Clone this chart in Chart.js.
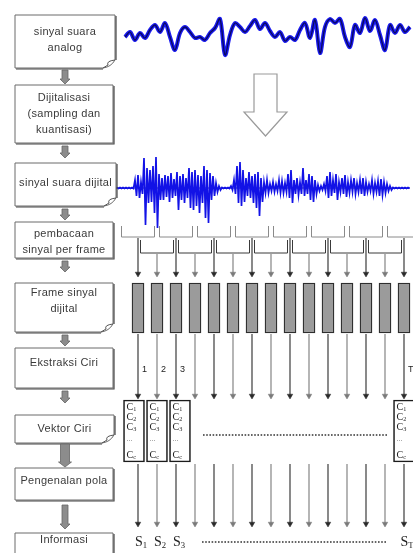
<!DOCTYPE html>
<html>
<head>
<meta charset="utf-8">
<title>Alur pengenalan suara</title>
<script src="https://cdn.jsdelivr.net/npm/chart.js@4.4.1/dist/chart.umd.min.js"></script>
<style>
  html, body { margin: 0; padding: 0; background: #fff; }
  #wrap { width: 413px; height: 553px; }
</style>
</head>
<body>
<div id="wrap"><canvas id="diagram"></canvas></div>
<script>
// ---- values ----
const stageLabels = [
  ['sinyal suara', 'analog'],
  ['Dijitalisasi', '(sampling dan', 'kuantisasi)'],
  ['sinyal suara dijital'],
  ['pembacaan', 'sinyal per frame'],
  ['Frame sinyal', 'dijital'],
  ['Ekstraksi Ciri'],
  ['Vektor Ciri'],
  ['Pengenalan pola'],
  ['Informasi']
];

// analog speech signal, amplitude per sample
const analogWave = [-2, 3, -5, 2, -3, 5, 10, 3, 12, -2, -15, 2, 8, 3, -3, -2, -5, 2, 7, 16,
  -20, 0, 12, 8, 3, 9, 15, 6, 12, 4, -2, 3, -6, -2, -5, 5, 12, -3, 15, -18,
  8, 16, 12, 16, -2, -12, 10, 2, 17, 4, 15, 0, -15, 10, 2, 10, 3, 8];

// digital signal envelope (positive / negative peak per column)
const digitalUpper = [0.5, 0.5, 0.5, 0.5, 0.5, 0.5,
  8, 13, 6, 30, 20, 18, 22, 31, 14, 10, 13, 12, 15, 9, 16, 12,
  14, 10, 20, 16, 18, 13, 12, 22, 18, 15, 12, 5, 2, 0.5, 0.5, 0.5,
  2, 8, 22, 26, 18, 10, 16, 12, 14, 16, 10, 6, 8, 4, 6, 4,
  8, 7, 5, 14, 18, 8, 10, 6, 20, 8, 14, 12, 8, 3, 2, 4,
  12, 16, 8, 14, 6, 10, 13, 6, 8, 10, 5, 8, 10, 6, 4, 8,
  5, 7, 9, 6, 4, 2, 0.5, 0.5, 0.5, 0.5, 0.5, 0.5];
const digitalLower = [0.5, 0.5, 0.5, 0.5, 0.5, 0.5,
  8, 10, 6, 37, 15, 14, 25, 40, 12, 12, 9, 14, 10, 8, 22, 12,
  15, 10, 20, 22, 18, 25, 15, 30, 35, 12, 8, 4, 2, 0.5, 0.5, 0.5,
  2, 6, 15, 18, 14, 8, 10, 15, 20, 28, 14, 5, 5, 3, 4, 3,
  5, 5, 4, 10, 15, 6, 7, 6, 8, 6, 12, 14, 6, 3, 2, 3,
  10, 8, 5, 12, 4, 6, 9, 5, 4, 6, 4, 6, 8, 4, 3, 6,
  4, 8, 7, 5, 3, 2, 0.5, 0.5, 0.5, 0.5, 0.5, 0.5];

const frameCount = 15;
const shownFrames = [0, 1, 2, 14];          // frames drawn with a feature vector
const frameTags = ['1', '2', '3', 'T'];
const featureSubs = ['1', '2', '3', null, 'c'];
const outputSubs = ['1', '2', '3', 'T'];

// ---- layout ----
const W = 413, H = 553;
const WAVE_X0 = 125, WAVE_DX = 5, WAVE_Y = 35;
const DIG_X0 = 117, DIG_DX = 3, DIG_Y = 188;
const FRAME_X0 = 138, FRAME_DX = 19;
const BRACKET_HALF = 16.5 / FRAME_DX;
const HEAD = 3.2;
const FONT = '"Liberation Sans", Arial, sans-serif';
const SERIF = '"Liberation Serif", "Times New Roman", serif';

const stageBoxes = [
  { t: 15, b: 68, r: 115, note: true, ty: 32 },
  { t: 85, b: 143, r: 113, ty: 98 },
  { t: 163, b: 206, r: 116, note: true, ty: 183 },
  { t: 222, b: 258, r: 113, ty: 234 },
  { t: 283, b: 332, r: 113, note: true, ty: 293 },
  { t: 348, b: 388, r: 113, ty: 363 },
  { t: 415, b: 443, r: 114, note: true, ty: 429 },
  { t: 468, b: 500, r: 113, ty: 481 },
  { t: 533, b: 570, r: 113, ty: 540 }
];
const stageArrows = [[70, 84], [146, 158], [209, 220], [261, 272], [335, 346], [391, 403], [444, 467, true], [505, 529]];

const frames = Array.from({ length: frameCount }, (_, i) => i);
const vecOffset = i => (i <= 2 ? (i - 1) * 4 / FRAME_DX : 0);

// ---- datasets ----
const analogPts = analogWave.map((v, i) => ({ x: WAVE_X0 + i * WAVE_DX, y: WAVE_Y - v }));
const digitalPts = [];
digitalUpper.forEach((u, i) => {
  const x = DIG_X0 + i * DIG_DX;
  digitalPts.push({ x, y: DIG_Y - u }, { x: x + DIG_DX / 2, y: DIG_Y + digitalLower[i] });
});

function bracketPts(row) {
  const top = row ? 240 : 226, bot = row ? 253 : 237;
  const pts = [];
  frames.filter(i => i % 2 === row).forEach(i => {
    const l = i - BRACKET_HALF, r = i + BRACKET_HALF;
    pts.push({ x: l, y: top }, { x: l, y: bot }, { x: r, y: bot }, { x: r, y: top }, { x: r, y: null });
  });
  return pts;
}

function arrowPts(parity) {
  const pts = [];
  frames.filter(i => i % 2 === parity).forEach(i => {
    [[i % 2 ? 254 : 238, 277], [334, 399], [464, 527]].forEach(([a, b]) => {
      pts.push({ x: i, y: a }, { x: i, y: b - HEAD, head: true }, { x: i, y: null });
    });
  });
  return pts;
}

const lineBase = { type: 'line', pointRadius: 0, spanGaps: false, tension: 0 };
const arrowStyle = c => ({
  ...lineBase, xAxisID: 'xF', borderColor: c, borderWidth: 1.1,
  pointStyle: 'triangle', rotation: 180,
  pointRadius: ctx => (ctx.raw && ctx.raw.head ? HEAD : 0),
  pointBackgroundColor: c, pointBorderColor: c, pointBorderWidth: 0.5
});

const datasets = [
  { ...lineBase, xAxisID: 'x', data: analogPts, borderColor: '#0a0a60', borderWidth: 1.3, tension: 0.35, order: 1 },
  { ...lineBase, xAxisID: 'x', data: analogPts, borderColor: '#1a1af0', borderWidth: 4, tension: 0.35, order: 2 },
  { ...lineBase, xAxisID: 'x', data: digitalPts, borderColor: '#1212e6', borderWidth: 1.7, order: 3 },
  { ...lineBase, xAxisID: 'x', data: [{ x: 113, y: DIG_Y }, { x: 410, y: DIG_Y }], borderColor: '#2a2a9a', borderWidth: 1, order: 4 },
  { ...lineBase, xAxisID: 'xF', data: bracketPts(0), borderColor: '#8a8a8a', borderWidth: 1, order: 5 },
  { ...lineBase, xAxisID: 'xF', data: bracketPts(1), borderColor: '#3a3a3a', borderWidth: 1, order: 5 },
  { ...arrowStyle('#2a2a2a'), data: arrowPts(0), order: 6 },
  { ...arrowStyle('#7a7a7a'), data: arrowPts(1), order: 6 },
  {
    type: 'bar', xAxisID: 'xF', data: frames.map(i => ({ x: i, y: [283, 333] })),
    backgroundColor: '#9b9b9b', borderColor: '#2e2e2e', borderWidth: 1.3, borderSkipped: false,
    barThickness: 12, maxBarThickness: 12, grouped: false, order: 0
  },
  {
    type: 'bar', xAxisID: 'xV', data: shownFrames.map(i => ({ x: i + vecOffset(i), y: [400, 462] })),
    backgroundColor: '#ffffff', borderColor: '#1c1c1c', borderWidth: 1.6, borderSkipped: false,
    barThickness: 21, maxBarThickness: 21, grouped: false, order: 0
  },
  { ...lineBase, xAxisID: 'x', data: [{ x: 203, y: 435 }, { x: 387, y: 435 }], borderColor: '#333', borderWidth: 1.4, borderDash: [1.6, 1.6], order: 8 },
  { ...lineBase, xAxisID: 'x', data: [{ x: 202, y: 542 }, { x: 387, y: 542 }], borderColor: '#333', borderWidth: 1.4, borderDash: [1.6, 1.6], order: 8 }
];

// ---- drawing helpers for the flow boxes ----
function drawBox(ctx, l, t, r, b, note) {
  ctx.save();
  ctx.beginPath();
  ctx.moveTo(l, t);
  ctx.lineTo(r, t);
  if (note) {
    ctx.lineTo(r, b - 8);
    ctx.quadraticCurveTo(r - 4, b - 1, r - 12, b);
  } else {
    ctx.lineTo(r, b);
  }
  ctx.lineTo(l, b);
  ctx.closePath();
  ctx.fillStyle = '#fff';
  ctx.fill();
  ctx.strokeStyle = '#6a6a6a';
  ctx.lineWidth = 1;
  ctx.stroke();
  // darker right / bottom edge
  ctx.beginPath();
  ctx.moveTo(r + 1, t + 1);
  ctx.lineTo(r + 1, note ? b - 8 : b + 1);
  if (!note) ctx.lineTo(l + 1, b + 1);
  else { ctx.moveTo(r - 12, b + 1); ctx.lineTo(l + 1, b + 1); }
  ctx.strokeStyle = '#444';
  ctx.lineWidth = 1.2;
  ctx.stroke();
  if (note) {
    ctx.beginPath();
    ctx.moveTo(r, b - 8);
    ctx.quadraticCurveTo(r - 9, b - 7, r - 7, b - 3);
    ctx.lineTo(r - 12, b);
    ctx.strokeStyle = '#555';
    ctx.lineWidth = 1;
    ctx.stroke();
  }
  ctx.restore();
}

function drawBlockArrow(ctx, cx, t, b, wide) {
  const sh = wide ? 4.5 : 3, hh = wide ? 6.5 : 5, hl = 5;
  ctx.save();
  ctx.beginPath();
  ctx.moveTo(cx - sh, t);
  ctx.lineTo(cx + sh, t);
  ctx.lineTo(cx + sh, b - hl);
  ctx.lineTo(cx + hh, b - hl);
  ctx.lineTo(cx, b);
  ctx.lineTo(cx - hh, b - hl);
  ctx.lineTo(cx - sh, b - hl);
  ctx.closePath();
  ctx.fillStyle = '#8c8c8c';
  ctx.fill();
  ctx.strokeStyle = '#666';
  ctx.lineWidth = 0.8;
  ctx.stroke();
  ctx.restore();
}

function subText(ctx, base, sub, x, y, size, family, align) {
  ctx.font = size + 'px ' + family;
  const w = ctx.measureText(base).width;
  const ss = size * 0.62;
  ctx.font = ss + 'px ' + family;
  const ws = sub ? ctx.measureText(sub).width : 0;
  const x0 = align === 'left' ? x : x - (w + ws) / 2;
  ctx.textAlign = 'left';
  ctx.font = size + 'px ' + family;
  ctx.fillText(base, x0, y);
  if (sub) {
    ctx.font = ss + 'px ' + family;
    ctx.fillText(sub, x0 + w, y + size * 0.28);
  }
}

const diagramPlugin = {
  id: 'diagram',
  afterDatasetsDraw(chart) {
    const { ctx } = chart;
    const px = v => chart.scales.x.getPixelForValue(v);
    const py = v => chart.scales.y.getPixelForValue(v);
    const fx = v => chart.scales.xF.getPixelForValue(v);

    // flow boxes on the left
    stageBoxes.forEach((bx, k) => {
      drawBox(ctx, px(15), py(bx.t), px(bx.r), py(bx.b), bx.note);
      ctx.save();
      ctx.fillStyle = '#3a3a3a';
      ctx.font = '11px ' + FONT;
      ctx.letterSpacing = '0.3px';
      ctx.textAlign = 'center';
      ctx.textBaseline = 'middle';
      const cx = px((15 + bx.r) / 2);
      stageLabels[k].forEach((line, j) => ctx.fillText(line, cx, py(bx.ty + j * 16)));
      ctx.restore();
    });
    stageArrows.forEach(([t, b, wide]) => drawBlockArrow(ctx, px(65), py(t), py(b), wide));

    // hollow arrow: analog -> digital
    ctx.save();
    ctx.beginPath();
    ctx.moveTo(px(254), py(74));
    ctx.lineTo(px(277), py(74));
    ctx.lineTo(px(277), py(112));
    ctx.lineTo(px(287), py(112));
    ctx.lineTo(px(265.5), py(136));
    ctx.lineTo(px(244), py(112));
    ctx.lineTo(px(254), py(112));
    ctx.closePath();
    ctx.fillStyle = '#fff';
    ctx.fill();
    ctx.strokeStyle = '#9a9a9a';
    ctx.lineWidth = 1.2;
    ctx.stroke();
    ctx.restore();

    ctx.save();
    ctx.fillStyle = '#222';
    ctx.textBaseline = 'middle';
    // frame numbers next to the extraction arrows
    ctx.font = '9px ' + FONT;
    ctx.textAlign = 'left';
    shownFrames.forEach((f, k) => ctx.fillText(frameTags[k], fx(f) + 4, py(370)));

    // feature vector contents
    const vecMeta = chart.getDatasetMeta(9);
    vecMeta.data.forEach(el => {
      const left = el.x - el.width / 2 + 3;
      [407, 417, 427, 441, 455].forEach((yy, r) => {
        const sub = featureSubs[r];
        if (sub === null) {
          ctx.font = '8px ' + SERIF;
          ctx.fillStyle = '#777';
          ctx.textAlign = 'left';
          ctx.fillText('...', left, py(yy) - 2);
          ctx.fillStyle = '#222';
        } else {
          subText(ctx, 'C', sub, left, py(yy), 10, SERIF, 'left');
        }
      });
    });

    // recognised symbols
    shownFrames.forEach((f, k) => subText(ctx, 'S', outputSubs[k], fx(f) + 3, py(542), 14, SERIF));
    ctx.restore();
  }
};

const frameAxis = {
  type: 'linear', offset: false, display: false,
  min: -FRAME_X0 / FRAME_DX, max: (W - FRAME_X0) / FRAME_DX
};

new Chart(document.getElementById('diagram'), {
  type: 'line',
  data: { datasets },
  options: {
    responsive: true,
    maintainAspectRatio: false,
    animation: false,
    events: [],
    layout: { padding: 0 },
    plugins: { legend: { display: false }, tooltip: { enabled: false } },
    scales: {
      x: { type: 'linear', offset: false, min: 0, max: W, display: false },
      xF: { ...frameAxis },
      xV: { ...frameAxis },
      y: { type: 'linear', min: 0, max: H, reverse: true, display: false }
    }
  },
  plugins: [diagramPlugin]
});
</script>
</body>
</html>
